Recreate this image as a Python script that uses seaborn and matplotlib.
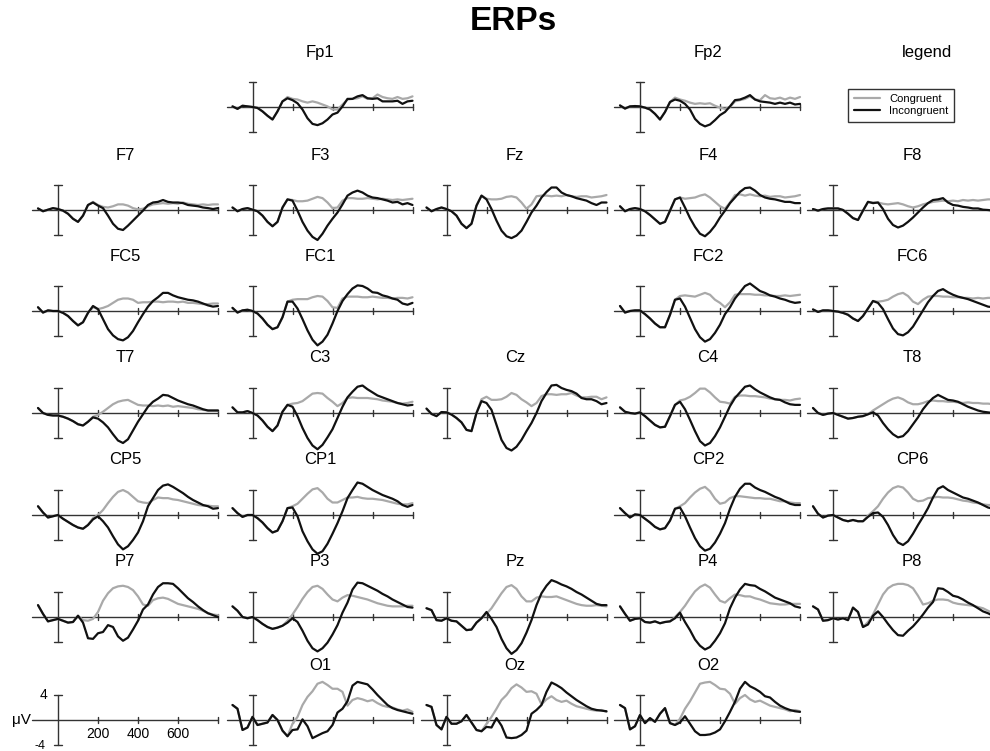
import pandas as pd
import matplotlib
matplotlib.use("Agg")
import matplotlib.pyplot as plt
import seaborn as sns
from matplotlib.lines import Line2D

# sample times in ms (-100 .. 800, every 25 ms)
times = list(range(-100, 801, 25))

# montage layout, None = empty cell
layout = [
    [None, "Fp1", None, "Fp2", "legend"],
    ["F7", "F3", "Fz", "F4", "F8"],
    ["FC5", "FC1", None, "FC2", "FC6"],
    ["T7", "C3", "Cz", "C4", "T8"],
    ["CP5", "CP1", None, "CP2", "CP6"],
    ["P7", "P3", "Pz", "P4", "P8"],
    ["scale", "O1", "Oz", "O2", None],
]

# amplitudes in microvolts
Fp1_inc = [0.1, -0.3, 0.2, 0.1,
           0.0, -0.15, -0.7, -1.4, -2.0, -0.7, 0.9, 1.4,
           1.1, 0.6, -0.4, -1.8, -2.7, -2.9, -2.6, -2.0,
           -1.2, -0.9, 0.1, 1.3, 1.3, 1.7, 1.9, 1.4,
           1.3, 1.4, 0.9, 0.9, 0.9, 1.0, 0.5, 0.9, 1.0]
Fp1_con = [0.1, -0.3, 0.2, 0.1,
           0.0, -0.15, -0.7, -1.4, -2.0, -0.7, 0.9, 1.6,
           1.3, 1.2, 0.9, 0.7, 0.9, 0.7, 0.4, 0.1,
           -0.4, -0.4, 0.4, 1.2, 1.3, 1.4, 1.7, 1.3,
           1.4, 2.0, 1.6, 1.4, 1.3, 1.6, 1.3, 1.4, 1.7]

Fp2_inc = [0.25, -0.25, 0.1, 0.15,
           0.1, -0.1, -0.4, -1.1, -2.0, -0.8, 0.8, 1.2,
           1.0, 0.5, -0.4, -1.9, -2.7, -3.1, -2.8, -2.1,
           -1.3, -0.8, 0.1, 1.1, 1.2, 1.5, 1.9, 1.2,
           0.9, 0.8, 0.7, 0.5, 0.7, 0.5, 0.7, 0.4, 0.5]
Fp2_con = [0.25, -0.25, 0.1, 0.15,
           0.1, -0.1, -0.4, -1.1, -2.0, -0.8, 0.8, 1.5,
           1.2, 1.0, 0.7, 0.5, 0.6, 0.5, 0.6, 0.2,
           -0.1, -0.3, 0.0, 0.9, 1.1, 1.3, 1.7, 1.2,
           1.1, 1.9, 1.4, 1.3, 1.5, 1.2, 1.5, 1.3, 1.6]

F7_inc = [0.25, -0.2, 0.05, 0.3,
          0.15, -0.1, -0.6, -1.4, -1.9, -0.9, 0.8, 1.2,
          0.7, 0.3, -0.9, -2.2, -3.0, -3.2, -2.5, -1.7,
          -0.9, -0.1, 0.8, 1.2, 1.3, 1.6, 1.3, 1.2,
          1.2, 1.1, 0.8, 0.7, 0.6, 0.4, 0.3, 0.15, 0.3]
F7_con = [0.25, -0.2, 0.05, 0.3,
          0.15, -0.1, -0.6, -1.4, -1.9, -0.9, 0.8, 1.3,
          0.8, 0.5, 0.4, 0.6, 0.9, 0.9, 0.7, 0.3,
          0.1, 0.2, 0.6, 0.9, 1.0, 1.1, 1.0, 1.1,
          1.0, 1.2, 1.0, 0.9, 0.8, 0.9, 0.8, 0.9, 0.9]

F3_inc = [0.4, -0.2, 0.15, 0.3,
          0.05, -0.2, -0.9, -1.9, -2.6, -1.9, 0.4, 1.7,
          1.5, -0.1, -1.9, -3.3, -4.3, -4.8, -3.8, -2.5,
          -1.4, -0.4, 0.9, 2.3, 2.8, 3.1, 2.8, 2.3,
          2.0, 1.9, 1.7, 1.5, 1.2, 1.3, 0.9, 1.1, 0.8]
F3_con = [0.4, -0.2, 0.15, 0.3,
          0.05, -0.2, -0.9, -1.9, -2.6, -1.9, 0.4, 1.7,
          1.6, 1.4, 1.4, 1.5, 1.8, 2.1, 1.9, 1.2,
          0.3, 0.4, 1.5, 1.9, 1.9, 1.8, 1.8, 1.9,
          1.8, 1.7, 1.8, 1.7, 1.6, 1.7, 1.6, 1.7, 1.8]

Fz_inc = [0.4, -0.2, 0.15, 0.4,
          0.15, -0.2, -0.9, -2.2, -2.9, -2.2, 0.7, 2.3,
          1.7, 0.15, -1.7, -3.3, -4.2, -4.5, -4.1, -3.3,
          -1.9, -0.4, 0.7, 2.0, 2.9, 3.6, 3.6, 2.8,
          2.4, 2.2, 1.9, 1.7, 1.5, 1.1, 0.8, 1.2, 1.2]
Fz_con = [0.4, -0.2, 0.15, 0.4,
          0.15, -0.2, -0.9, -2.2, -2.9, -2.2, 0.7, 2.3,
          1.8, 1.7, 1.7, 1.8, 2.1, 2.2, 2.0, 1.2,
          0.2, 0.9, 2.2, 2.3, 2.3, 2.2, 2.3, 2.2,
          2.4, 2.2, 2.1, 2.2, 2.2, 2.0, 2.1, 2.2, 2.4]

F4_inc = [0.6, -0.2, 0.15, 0.3,
          0.15, -0.2, -0.8, -1.5, -2.2, -1.9, -0.1, 1.7,
          2.0, 0.4, -1.3, -2.7, -3.8, -4.2, -3.5, -2.5,
          -1.2, -0.1, 1.1, 2.0, 2.9, 3.5, 3.6, 3.1,
          2.4, 2.0, 1.8, 1.7, 1.5, 1.3, 1.3, 1.1, 1.1]
F4_con = [0.6, -0.2, 0.15, 0.3,
          0.15, -0.2, -0.8, -1.5, -2.2, -1.9, -0.1, 1.7,
          2.0, 1.8, 1.9, 2.0, 2.3, 2.5, 2.0, 1.3,
          0.6, 0.2, 1.2, 2.4, 2.5, 2.3, 2.5, 2.3,
          2.2, 2.3, 2.1, 2.2, 2.2, 2.0, 2.1, 2.2, 2.4]

F8_inc = [0.15, -0.1, 0.15, 0.25,
          0.25, 0.25, 0.0, -0.6, -1.3, -1.6, -0.1, 1.3,
          1.1, 1.2, 0.15, -1.4, -2.4, -2.8, -2.5, -1.9,
          -1.2, -0.4, 0.4, 1.1, 1.6, 1.7, 1.9, 1.2,
          0.8, 0.7, 0.5, 0.4, 0.25, 0.25, 0.05, 0.0, -0.1]
F8_con = [0.15, -0.1, 0.15, 0.25,
          0.25, 0.25, 0.0, -0.6, -1.3, -1.6, -0.1, 1.3,
          1.2, 1.2, 1.0, 0.9, 1.0, 1.1, 0.9, 0.6,
          0.4, 0.6, 0.9, 1.1, 1.3, 1.4, 1.5, 1.4,
          1.5, 1.4, 1.6, 1.5, 1.6, 1.5, 1.6, 1.7, 1.7]

FC5_inc = [0.6, -0.25, 0.1, 0.0,
           0.0, -0.3, -0.8, -1.6, -2.3, -1.8, -0.3, 0.8,
           0.3, -1.3, -2.9, -3.9, -4.5, -4.7, -4.2, -3.2,
           -1.8, -0.5, 0.7, 1.6, 2.2, 2.9, 2.9, 2.5,
           2.2, 2.0, 1.8, 1.7, 1.5, 1.2, 0.9, 0.7, 0.8]
FC5_con = [0.6, -0.25, 0.1, 0.0,
           0.0, -0.3, -0.8, -1.6, -2.3, -1.8, -0.3, 0.6,
           0.3, 0.5, 0.8, 1.3, 1.8, 2.0, 2.0, 1.8,
           1.3, 1.4, 1.4, 1.5, 1.5, 1.4, 1.5, 1.5,
           1.4, 1.5, 1.3, 1.3, 1.2, 1.1, 1.1, 1.2, 1.2]

FC1_inc = [0.5, -0.25, 0.1, 0.2,
           0.0, -0.4, -1.2, -2.2, -2.9, -2.6, -1.0, 1.5,
           1.5, 0.4, -1.3, -3.1, -4.6, -5.5, -4.9, -3.8,
           -2.0, 0.0, 1.6, 2.7, 3.6, 4.1, 4.0, 3.6,
           3.0, 2.9, 2.5, 2.3, 2.0, 1.8, 1.2, 1.0, 1.3]
FC1_con = [0.5, -0.25, 0.1, 0.2,
           0.0, -0.4, -1.2, -2.2, -2.9, -2.6, -1.0, 1.5,
           1.8, 1.9, 1.9, 1.9, 2.2, 2.4, 2.3, 1.6,
           0.6, 0.5, 2.0, 2.3, 2.3, 2.3, 2.2, 2.2,
           2.3, 2.2, 2.1, 2.1, 2.0, 2.1, 2.1, 2.0, 2.2]

FC2_inc = [0.8, -0.25, 0.0, 0.1,
           0.1, -0.5, -1.2, -2.0, -2.6, -2.6, -0.6, 1.8,
           2.0, 0.7, -1.1, -2.9, -4.2, -4.9, -4.5, -3.5,
           -2.2, -0.5, 0.6, 2.0, 3.0, 4.0, 4.4, 3.8,
           3.2, 2.9, 2.5, 2.3, 2.0, 1.8, 1.5, 1.3, 1.4]
FC2_con = [0.8, -0.25, 0.0, 0.1,
           0.1, -0.5, -1.2, -2.0, -2.6, -2.6, -0.6, 1.8,
           2.4, 2.5, 2.4, 2.3, 2.6, 2.9, 2.6, 1.8,
           1.3, 0.6, 1.4, 2.6, 2.7, 2.7, 2.7, 2.6,
           2.6, 2.5, 2.5, 2.4, 2.4, 2.5, 2.4, 2.5, 2.6]

FC6_inc = [0.25, -0.15, 0.1, 0.1,
           0.0, -0.1, -0.3, -0.6, -1.2, -1.6, -0.8, 0.4,
           1.6, 1.3, 0.3, -1.3, -2.8, -3.7, -3.9, -3.4,
           -2.5, -1.2, 0.1, 1.4, 2.4, 3.2, 3.5, 3.0,
           2.6, 2.3, 2.1, 1.9, 1.6, 1.3, 1.0, 0.7, 0.6]
FC6_con = [0.25, -0.15, 0.1, 0.1,
           0.0, -0.1, -0.3, -0.6, -1.2, -1.6, -0.8, 0.4,
           1.6, 1.5, 1.6, 1.8, 2.3, 2.7, 2.9, 2.4,
           1.5, 1.1, 1.8, 2.3, 2.4, 2.4, 2.3, 2.3,
           2.2, 2.2, 2.1, 2.1, 2.0, 2.1, 2.0, 2.1, 2.1]

T7_inc = [0.8, 0.0, -0.3, -0.4,
          -0.4, -0.6, -0.9, -1.3, -1.8, -2.0, -1.4, -0.7,
          -0.9, -1.5, -2.3, -3.4, -4.4, -4.8, -4.2, -2.8,
          -1.4, -0.2, 1.0, 1.8, 2.3, 2.9, 2.8, 2.4,
          2.0, 1.7, 1.4, 1.2, 0.9, 0.6, 0.4, 0.4, 0.4]
T7_con = [0.8, 0.0, -0.3, -0.4,
          -0.4, -0.6, -0.9, -1.3, -1.8, -2.0, -1.4, -0.6,
          -0.3, 0.2, 0.8, 1.4, 1.8, 2.0, 2.1, 1.7,
          1.3, 1.2, 1.2, 1.1, 1.2, 1.1, 1.2, 1.0,
          1.1, 1.0, 0.9, 0.8, 0.6, 0.5, 0.4, 0.4, 0.4]

C3_inc = [0.9, 0.1, 0.1, 0.3,
          0.0, -0.4, -1.2, -2.2, -2.9, -2.0, 0.2, 1.3,
          1.0, -0.5, -2.4, -4.0, -5.2, -5.8, -5.1, -3.9,
          -2.6, -0.8, 1.0, 2.5, 3.4, 4.2, 4.4, 3.8,
          3.3, 2.8, 2.5, 2.2, 1.9, 1.6, 1.4, 1.2, 1.3]
C3_con = [0.9, 0.1, 0.1, 0.3,
          0.0, -0.4, -1.2, -2.2, -2.9, -2.0, 0.2, 1.3,
          1.5, 1.6, 1.9, 2.5, 3.1, 3.2, 3.1, 2.4,
          1.8, 1.1, 1.6, 2.4, 2.5, 2.4, 2.4, 2.4,
          2.3, 2.2, 2.0, 1.9, 1.8, 1.6, 1.5, 1.6, 1.8]

Cz_inc = [0.7, -0.15, -0.5, 0.15,
          0.1, -0.25, -0.8, -1.5, -2.7, -2.9, 0.0, 1.9,
          1.6, 0.5, -1.9, -4.3, -5.6, -6.0, -5.4, -4.3,
          -2.9, -1.6, 0.0, 1.9, 3.2, 4.4, 4.5, 4.0,
          3.7, 3.5, 3.1, 2.4, 2.2, 2.2, 1.9, 1.4, 1.6]
Cz_con = [0.7, -0.15, -0.5, 0.15,
          0.1, -0.25, -0.8, -1.5, -2.7, -2.9, 0.0, 2.2,
          2.6, 2.1, 2.1, 2.2, 2.6, 3.2, 2.9, 2.2,
          1.7, 1.1, 1.6, 2.7, 3.0, 3.0, 2.9, 3.0,
          3.0, 3.2, 2.8, 2.5, 2.5, 2.6, 2.6, 2.2, 2.5]

C4_inc = [0.9, 0.2, 0.0, -0.1,
          0.1, -0.5, -1.2, -1.9, -2.3, -2.2, -0.5, 1.3,
          1.8, 0.6, -1.1, -2.9, -4.5, -5.2, -4.8, -3.7,
          -2.3, -0.6, 1.1, 2.4, 3.3, 4.2, 4.4, 3.8,
          3.3, 2.9, 2.5, 2.2, 2.1, 1.7, 1.4, 1.3, 1.3]
C4_con = [0.9, 0.2, 0.0, -0.1,
          0.1, -0.5, -1.2, -1.9, -2.3, -2.2, -0.5, 1.3,
          2.0, 2.2, 2.6, 3.2, 3.9, 3.9, 3.3, 2.5,
          1.8, 1.7, 1.5, 2.6, 2.8, 2.8, 2.7, 2.7,
          2.6, 2.5, 2.3, 2.2, 2.1, 2.1, 2.0, 2.2, 2.3]

T8_inc = [0.8, 0.0, -0.3, -0.1,
          0.0, -0.3, -0.6, -0.9, -0.8, -0.6, -0.5, -0.2,
          0.1, -0.4, -1.6, -2.6, -3.4, -3.9, -3.7, -2.9,
          -1.8, -0.7, 0.6, 1.6, 2.4, 2.9, 2.5, 2.1,
          2.0, 1.8, 1.4, 1.0, 0.7, 0.4, 0.2, 0.1, 0.0]
T8_con = [0.8, 0.0, -0.3, -0.1,
          0.0, -0.3, -0.6, -0.9, -0.8, -0.6, -0.5, -0.2,
          0.4, 0.9, 1.4, 1.9, 2.3, 2.5, 2.2, 1.7,
          1.4, 1.4, 1.6, 1.9, 2.0, 1.9, 1.9, 1.8,
          1.8, 1.7, 1.6, 1.7, 1.6, 1.6, 1.5, 1.5, 1.4]

CP5_inc = [1.4, 0.4, -0.4, -0.2,
           0.0, -0.6, -1.1, -1.6, -2.0, -2.2, -1.6, -0.7,
           -0.2, -1.0, -2.0, -3.4, -4.7, -5.5, -5.0, -4.0,
           -2.8, -1.0, 1.4, 2.7, 4.0, 4.7, 4.9, 4.5,
           4.0, 3.5, 2.9, 2.4, 2.0, 1.6, 1.4, 1.0, 1.1]
CP5_con = [1.4, 0.4, -0.4, -0.2,
           0.0, -0.6, -1.1, -1.6, -2.0, -2.2, -1.6, -0.5,
           0.0, 0.8, 1.9, 2.9, 3.7, 4.0, 3.6, 2.9,
           2.2, 2.0, 1.9, 2.4, 2.8, 2.7, 2.7, 2.5,
           2.4, 2.2, 2.0, 1.8, 1.6, 1.5, 1.5, 1.4, 1.4]

CP1_inc = [1.1, 0.3, -0.3, 0.0,
           0.0, -0.5, -1.2, -2.1, -2.8, -2.5, -1.0, 1.1,
           1.2, -0.2, -2.6, -4.2, -5.5, -6.2, -5.8, -4.6,
           -3.0, -1.3, 0.6, 2.7, 4.0, 5.2, 5.0, 4.5,
           4.0, 3.6, 3.2, 2.9, 2.6, 2.2, 1.6, 1.3, 1.6]
CP1_con = [1.1, 0.3, -0.3, 0.0,
           0.0, -0.5, -1.2, -2.1, -2.8, -2.5, -1.0, 1.1,
           1.4, 1.8, 2.6, 3.4, 4.1, 4.3, 3.6, 2.6,
           2.0, 2.0, 2.4, 2.8, 2.8, 2.9, 2.7, 2.6,
           2.6, 2.5, 2.4, 2.2, 2.0, 1.8, 1.7, 1.7, 1.9]

CP2_inc = [1.1, 0.3, -0.4, 0.1,
           0.0, -0.6, -1.2, -1.9, -2.3, -2.1, -0.9, 1.0,
           1.2, -0.2, -2.0, -3.7, -5.0, -5.7, -5.4, -4.4,
           -3.0, -1.3, 1.0, 2.9, 4.2, 5.0, 5.0, 4.4,
           4.0, 3.7, 3.3, 2.9, 2.6, 2.2, 1.8, 1.6, 1.6]
CP2_con = [1.1, 0.3, -0.4, 0.1,
           0.0, -0.6, -1.2, -1.9, -2.3, -2.1, -0.9, 1.0,
           1.4, 1.9, 2.8, 3.6, 4.2, 4.5, 3.8, 2.6,
           1.8, 2.0, 2.7, 3.0, 3.0, 2.9, 2.8, 2.7,
           2.7, 2.6, 2.6, 2.4, 2.2, 2.2, 2.0, 1.9, 1.9]

CP6_inc = [1.4, 0.2, -0.4, -0.1,
           0.0, -0.4, -0.8, -1.0, -0.8, -1.0, -1.0, -0.3,
           0.3, 0.4, -0.3, -1.6, -3.2, -4.4, -4.8, -4.2,
           -3.0, -1.6, -0.3, 1.1, 2.8, 4.2, 4.6, 4.0,
           3.6, 3.2, 2.8, 2.6, 2.3, 2.0, 1.6, 1.2, 1.0]
CP6_con = [1.4, 0.2, -0.4, -0.1,
           0.0, -0.4, -0.8, -1.0, -0.8, -1.0, -1.0, -0.1,
           0.6, 1.4, 2.6, 3.6, 4.3, 4.6, 4.4, 3.6,
           2.6, 2.2, 2.3, 2.7, 2.8, 2.9, 2.8, 2.8,
           2.7, 2.5, 2.3, 2.2, 2.0, 1.9, 1.7, 1.6, 1.6]

P7_inc = [1.9, 0.5, -0.7, -0.5,
          -0.3, -0.6, -0.9, -0.8, 0.2, -0.9, -3.4, -3.5,
          -2.6, -2.4, -1.3, -1.6, -3.1, -3.8, -3.3, -2.0,
          -0.6, 1.2, 2.0, 3.6, 4.8, 5.4, 5.4, 5.3,
          4.6, 3.8, 3.0, 2.4, 1.7, 1.1, 0.6, 0.3, 0.0]
P7_con = [1.9, 0.5, -0.7, -0.5,
          -0.3, -0.6, -0.9, -0.8, 0.2, -0.5, -0.6, -0.3,
          0.8, 2.6, 3.8, 4.6, 4.9, 5.0, 4.8, 4.3,
          3.3, 2.0, 1.8, 2.7, 3.0, 3.1, 2.9, 2.5,
          2.1, 1.9, 1.7, 1.5, 1.3, 1.0, 0.6, 0.4, 0.3]

P3_inc = [1.7, 1.0, 0.0, -0.2,
          0.0, -0.5, -1.1, -1.6, -1.9, -1.7, -1.4, -0.9,
          -0.2, -0.8, -2.2, -3.8, -5.0, -5.5, -5.0, -4.1,
          -2.8, -1.3, 0.7, 2.3, 4.4, 5.5, 5.4, 5.0,
          4.6, 4.2, 3.7, 3.3, 2.8, 2.4, 2.0, 1.6, 1.5]
P3_con = [1.7, 1.0, 0.0, -0.2,
          0.0, -0.5, -1.1, -1.6, -1.9, -1.7, -1.4, -0.6,
          0.4, 1.6, 2.9, 4.0, 4.8, 5.0, 4.5, 3.6,
          2.8, 2.5, 3.1, 3.5, 3.4, 3.2, 3.0, 2.8,
          2.5, 2.2, 2.0, 1.8, 1.7, 1.7, 1.7, 1.8, 1.8]

Pz_inc = [1.4, 1.1, -0.5, -0.6,
          -0.2, -0.6, -0.7, -1.4, -2.1, -2.0, -0.9, -0.2,
          0.8, -0.3, -1.6, -3.5, -5.0, -5.9, -5.3, -4.2,
          -2.5, -0.5, 1.9, 3.8, 5.0, 5.9, 5.6, 5.2,
          4.9, 4.5, 4.0, 3.6, 3.1, 2.6, 2.1, 1.9, 1.9]
Pz_con = [1.4, 1.1, -0.5, -0.6,
          -0.2, -0.6, -0.7, -1.4, -2.1, -2.0, -0.9, -0.2,
          0.5, 1.4, 2.6, 3.8, 4.8, 5.1, 4.5, 3.3,
          2.5, 2.5, 3.1, 3.3, 3.2, 3.2, 3.3, 3.0,
          2.7, 2.4, 2.1, 1.9, 1.8, 1.8, 1.9, 1.8, 1.7]

P4_inc = [1.7, 0.5, -0.6, -0.3,
          -0.2, -0.8, -0.9, -0.7, -1.0, -0.8, -0.7, -0.2,
          0.7, -0.8, -2.1, -3.6, -4.6, -5.2, -4.8, -3.8,
          -2.6, -1.0, 1.4, 3.1, 4.4, 5.3, 5.1, 5.0,
          4.5, 4.1, 3.6, 3.1, 2.8, 2.5, 2.2, 1.7, 1.5]
P4_con = [1.7, 0.5, -0.6, -0.3,
          -0.2, -0.8, -0.9, -0.7, -1.0, -0.8, -0.7, 0.0,
          0.8, 1.8, 3.0, 4.1, 4.8, 5.2, 4.7, 3.6,
          2.6, 2.3, 3.0, 3.6, 3.5, 3.3, 3.3, 3.0,
          2.8, 2.5, 2.2, 2.1, 2.0, 2.0, 2.1, 2.1, 2.1]

P8_inc = [1.7, 1.2, -0.6, -0.5,
          -0.2, -0.4, -0.2, -0.5, 1.5, 0.8, -1.6, -1.2,
          0.2, 0.9, 0.0, -1.1, -2.1, -2.9, -3.0, -2.2,
          -1.5, -0.6, 0.4, 1.5, 2.4, 4.6, 4.5, 4.0,
          3.4, 3.2, 2.8, 2.3, 1.9, 1.4, 0.9, 0.6, 0.2]
P8_con = [1.7, 1.2, -0.6, -0.5,
          -0.2, -0.4, -0.2, -0.5, 1.5, 0.8, -1.6, -0.8,
          0.4, 2.0, 3.6, 4.6, 5.1, 5.3, 5.3, 5.1,
          4.6, 3.4, 2.0, 2.2, 2.6, 2.8, 2.8, 2.7,
          2.3, 2.1, 2.0, 1.9, 1.8, 1.6, 1.4, 1.0, 0.6]

O1_inc = [2.4, 1.8, -1.6, -1.2,
          0.5, -0.8, -0.6, -0.4, 0.8, 0.0, -1.7, -2.6,
          -1.6, -1.5, 0.1, -1.0, -2.9, -2.5, -2.1, -1.8,
          -0.8, 1.2, 1.8, 3.0, 5.5, 6.1, 5.9, 5.7,
          4.9, 4.0, 3.2, 2.4, 1.9, 1.6, 1.4, 1.2, 1.0]
O1_con = [2.4, 1.8, -1.6, -1.2,
          0.5, -0.8, -0.6, -0.4, 0.8, 0.0, -1.7, -2.6,
          -0.6, 0.5, 2.4, 3.7, 4.6, 5.8, 6.1, 5.6,
          5.0, 5.0, 4.5, 2.3, 3.2, 3.5, 3.3, 3.0,
          3.2, 2.7, 2.3, 2.1, 2.0, 1.7, 1.5, 1.7, 1.3]

Oz_inc = [2.4, 2.1, -0.8, -1.5,
          0.5, -0.6, -0.6, -0.2, 0.8, -0.4, -1.6, -1.8,
          -1.1, -1.2, 0.3, -0.9, -2.8, -2.9, -2.8, -2.4,
          -1.7, 1.0, 1.6, 2.4, 4.5, 6.0, 5.6, 5.1,
          4.4, 3.8, 3.2, 2.7, 2.2, 1.8, 1.6, 1.5, 1.4]
Oz_con = [2.4, 2.1, -0.8, -1.5,
          0.5, -0.6, -0.6, -0.2, 0.8, -0.4, -1.6, -1.8,
          -0.6, 0.5, 1.8, 3.2, 4.0, 5.1, 5.7, 5.2,
          4.5, 4.6, 4.2, 2.5, 3.3, 3.8, 3.2, 2.9,
          3.1, 2.6, 2.2, 2.0, 1.8, 1.6, 1.5, 1.6, 1.3]

O2_inc = [2.4, 1.9, -1.5, -1.0,
          0.8, -0.5, 0.3, -0.3, 1.0, 1.9, -0.5, -0.8,
          -0.4, 0.6, -0.6, -1.8, -2.4, -2.4, -2.3, -2.0,
          -1.5, -0.2, 1.3, 2.9, 5.0, 6.1, 5.4, 5.0,
          4.5, 3.8, 3.6, 2.9, 2.3, 1.9, 1.6, 1.4, 1.3]
O2_con = [2.4, 1.9, -1.5, -1.0,
          0.8, -0.5, 0.3, -0.3, 1.0, 1.9, -0.5, -0.8,
          0.2, 1.8, 3.0, 4.4, 5.8, 6.0, 6.1, 5.6,
          5.0, 4.9, 4.2, 2.6, 3.5, 4.0, 3.3, 2.9,
          3.1, 2.7, 2.3, 2.1, 1.9, 1.7, 1.4, 1.6, 1.4]

waves = {
    "Fp1": (Fp1_con, Fp1_inc), "Fp2": (Fp2_con, Fp2_inc),
    "F7": (F7_con, F7_inc), "F3": (F3_con, F3_inc), "Fz": (Fz_con, Fz_inc),
    "F4": (F4_con, F4_inc), "F8": (F8_con, F8_inc),
    "FC5": (FC5_con, FC5_inc), "FC1": (FC1_con, FC1_inc),
    "FC2": (FC2_con, FC2_inc), "FC6": (FC6_con, FC6_inc),
    "T7": (T7_con, T7_inc), "C3": (C3_con, C3_inc), "Cz": (Cz_con, Cz_inc),
    "C4": (C4_con, C4_inc), "T8": (T8_con, T8_inc),
    "CP5": (CP5_con, CP5_inc), "CP1": (CP1_con, CP1_inc),
    "CP2": (CP2_con, CP2_inc), "CP6": (CP6_con, CP6_inc),
    "P7": (P7_con, P7_inc), "P3": (P3_con, P3_inc), "Pz": (Pz_con, Pz_inc),
    "P4": (P4_con, P4_inc), "P8": (P8_con, P8_inc),
    "O1": (O1_con, O1_inc), "Oz": (Oz_con, Oz_inc), "O2": (O2_con, O2_inc),
}

conditions = ["Congruent", "Incongruent"]
colors = {"Congruent": "#a9a9a9", "Incongruent": "#111111"}
axis_col = "#333333"

sns.set_theme(style="white")
plt.rcParams['font.family'] = ['Liberation Sans', 'DejaVu Sans']
plt.rcParams['text.color'] = 'black'

W, H = 990, 751
fig = plt.figure(figsize=(W / 100, H / 100), dpi=100)

# pixel positions of the time-zero bar / zero line of every cell
col_x = [58, 252.5, 446.5, 640, 833]
row_y = [107, 210, 311, 413, 515, 617, 720]
title_x = [125, 320, 515, 708, 912]


def make_ax(r, c):
    left = (col_x[c] - 28) / W
    bottom = 1 - (row_y[r] + 43.75) / H
    ax = fig.add_axes([left, bottom, 194 / W, 87.5 / H])
    ax.set_xlim(-140, 830)
    ax.set_ylim(-7, 7)
    ax.axis('off')
    return ax


def draw_frame(ax):
    ax.plot([-130, 800], [0, 0], color=axis_col, lw=1.0)
    for t in (200, 400, 600, 800):
        ax.plot([t, t], [-0.45, 0.45], color=axis_col, lw=1.0)
    ax.plot([0, 0], [-4, 4], color=axis_col, lw=1.0)
    ax.plot([-18, 18], [4, 4], color=axis_col, lw=1.0)
    ax.plot([-18, 18], [-4, -4], color=axis_col, lw=1.0)


for r, row in enumerate(layout):
    for c, name in enumerate(row):
        if name is None:
            continue
        ax = make_ax(r, c)
        if name == "legend":
            fig.text(927 / W, 1 - (row_y[r] - 55) / H, "legend",
                     ha='center', va='center', fontsize=12)
            handles = [Line2D([], [], color=colors[k], lw=1.6) for k in conditions]
            ax.legend(handles, conditions, loc='center', bbox_to_anchor=(0.495, 0.52),
                      fontsize=8, frameon=True, fancybox=False, edgecolor='black',
                      handlelength=2.4, borderpad=0.5, labelspacing=0.2)
            continue
        draw_frame(ax)
        if name == "scale":
            for t in (200, 400, 600):
                ax.text(t, -1.1, str(t), ha='center', va='top', fontsize=10)
            ax.text(-75, 4, "4", ha='center', va='center', fontsize=10)
            ax.text(-90, -4.2, "-4", ha='center', va='center', fontsize=9)
            ax.text(-135, 0, "μV", ha='right', va='center', fontsize=11)
            continue
        fig.text(title_x[c] / W, 1 - (row_y[r] - 55) / H, name,
                 ha='center', va='center', fontsize=12)
        con, inc = waves[name]
        df = pd.DataFrame({
            "time": times + times,
            "uV": con + inc,
            "condition": ["Congruent"] * len(times) + ["Incongruent"] * len(times),
        })
        sns.lineplot(data=df, x="time", y="uV", hue="condition", hue_order=conditions,
                     palette=colors, linewidth=1.6, legend=False, errorbar=None, ax=ax)
        ax.axis('off')

fig.text(513.5 / W, 1 - 22 / H, "ERPs", ha='center', va='center',
         fontsize=24, fontweight='bold')

plt.savefig("out.png", dpi=100)
